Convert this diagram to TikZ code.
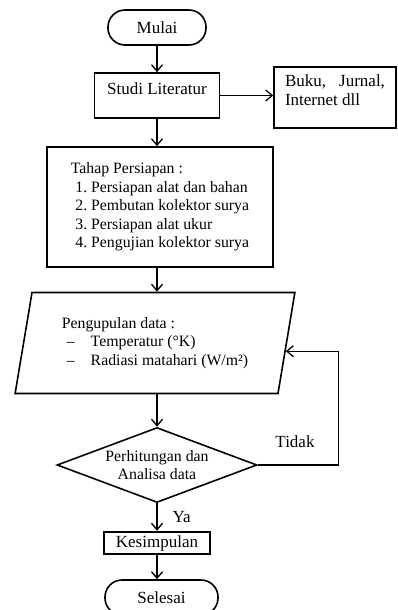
\documentclass[tikz,border=0pt]{standalone}
\usepackage{fontspec}
\setmainfont{Liberation Serif}
\usetikzlibrary{shapes.geometric,arrows.meta,calc}
\newcommand{\bigtxt}{\fontsize{17}{19}\selectfont}
\newcommand{\smalltxt}{\fontsize{15.8}{18.5}\selectfont\frenchspacing}

\begin{document}
\begin{tikzpicture}[x=1pt,y=-1pt,
    blk/.style={rectangle,draw,line width=1.6pt,inner sep=0pt,font=\bigtxt},
    term/.style={blk,rounded corners=17pt,minimum width=#1,minimum height=35pt},
    arr/.style={-{Straight Barb[length=6.5pt,width=11pt]},line width=1.3pt},
    lbl/.style={inner sep=0pt,font=\bigtxt},
]
\useasboundingbox (0,0) rectangle (397,610);

\node[term=98pt] (mulai) at (157,27.5) {Mulai};
\node[blk,minimum width=125pt,minimum height=45pt,text depth=14pt] (studi) at (157,95.5) {Studi Literatur};
\node[blk,minimum width=122pt,minimum height=61pt] (buku) at (335,97.5)
    {\parbox[c][45pt][t]{100pt}{Buku,\hfill Jurnal,\\Internet dll}};

\node[blk,minimum width=226pt,minimum height=120pt,align=left,font=\smalltxt] (tahap) at (160,207)
    {Tahap Persiapan :\\
     \hspace*{4.5pt}1. Persiapan alat dan bahan\\
     \hspace*{4.5pt}2. Pembutan kolektor surya\\
     \hspace*{4.5pt}3. Persiapan alat ukur\\
     \hspace*{4.5pt}4. Pengujian kolektor surya};

\node[trapezium,trapezium left angle=76,trapezium right angle=104,trapezium stretches=true,draw,line width=1.6pt,
      minimum width=280pt,minimum height=101pt,inner sep=0pt,align=left,font=\smalltxt] (data) at (155,343)
    {Pengupulan data :\\
     \hspace*{5pt}–\hspace*{16pt}Temperatur (°K)\\
     \hspace*{5pt}–\hspace*{16pt}Radiasi matahari (W/m²)};

\node[diamond,draw,line width=1.6pt,aspect=2.67,minimum width=200pt,minimum height=75pt,inner sep=0pt,
      align=center,font=\smalltxt] (cek) at (157,465) {Perhitungan dan\\Analisa data};

\node[blk,line width=2.5pt,minimum width=106pt,minimum height=22pt] (simpul) at (157,543) {Kesimpulan};
\node[term=113pt] (selesai) at (161.5,597.5) {Selesai};

\node[lbl] (tidak) at (295,442) {Tidak};
\coordinate (back) at ($(data.top right corner)!0.58!(data.bottom right corner)$);

\draw[arr] (mulai) -- (studi);
\draw[arr] (studi.east) -- (studi.east -| buku.west);
\draw[arr] (studi) -- (studi |- tahap.north);
\draw[arr] (tahap.south -| cek) -- (cek |- data.north);
\draw[arr] (data.south -| cek) -- (cek.north);
\draw[arr] (cek) -- node[lbl,anchor=west,xshift=15pt] (ya) {Ya} (cek |- simpul.north);
\draw[arr] (simpul) -- (simpul |- selesai.north);
\draw[arr] (cek.east) -- ++(81,0) |- (back);
\end{tikzpicture}
\end{document}
